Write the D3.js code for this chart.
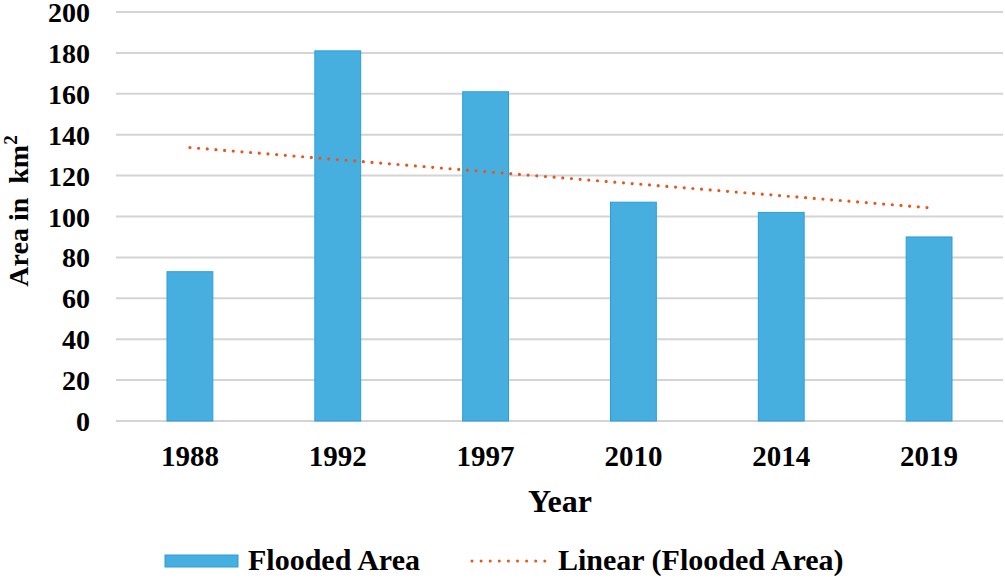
<!DOCTYPE html>
<html>
<head>
<meta charset="utf-8">
<script src="https://cdn.jsdelivr.net/npm/d3@7"></script>
<style>
  body { margin: 0; background: #fff; }
</style>
</head>
<body>
<svg width="1005" height="580"></svg>
<script>
const years = ["1988", "1992", "1997", "2010", "2014", "2019"];
const floodedArea = [73, 181, 161, 107, 102, 90];
const yTicks = [0, 20, 40, 60, 80, 100, 120, 140, 160, 180, 200];

const barColor = "#47afe0";
const barStroke = "#2a9ed8";
const trendColor = "#e8561a";
const gridColor = "#d4d4d4";
const serif = "Liberation Serif";

const svg = d3.select("svg");
const margin = { left: 116, right: 2, top: 12, bottom: 159 };
const width = 1005 - margin.left - margin.right;
const height = 580 - margin.top - margin.bottom;

const g = svg.append("g").attr("transform", `translate(${margin.left},${margin.top})`);

const x = d3.scaleBand().domain(years).range([0, width]).paddingInner(0.69).paddingOuter(0.345);
const y = d3.scaleLinear().domain([0, 200]).range([height, 0]);

// gridlines
g.append("g")
  .selectAll("line")
  .data(yTicks)
  .enter()
  .append("line")
  .attr("x1", 0)
  .attr("x2", width)
  .attr("y1", (d) => y(d))
  .attr("y2", (d) => y(d))
  .attr("stroke", gridColor)
  .attr("stroke-width", 2);

// y tick labels
const yAxis = g.append("g")
  .attr("transform", "translate(-26,0)")
  .call(d3.axisLeft(y).tickValues(yTicks).tickSize(0).tickPadding(0));
yAxis.select(".domain").remove();
yAxis.attr("font-family", serif).attr("font-size", 28).attr("font-weight", "bold");
yAxis.selectAll("text").attr("fill", "#000").attr("dy", "0.34em");

// bars
g.append("g")
  .selectAll("rect")
  .data(floodedArea)
  .enter()
  .append("rect")
  .attr("x", (d, i) => x(years[i]))
  .attr("y", (d) => y(d))
  .attr("width", x.bandwidth())
  .attr("height", (d) => height - y(d))
  .attr("fill", barColor)
  .attr("stroke", barStroke)
  .attr("stroke-width", 1);

// linear trend (least squares over category index)
const n = floodedArea.length;
const xs = d3.range(1, n + 1);
const mx = d3.mean(xs);
const my = d3.mean(floodedArea);
const slope = d3.sum(xs, (v, i) => (v - mx) * (floodedArea[i] - my)) / d3.sum(xs, (v) => (v - mx) ** 2);
const intercept = my - slope * mx;
const trend = years.map((yr, i) => ({ yr, v: intercept + slope * (i + 1) }));

g.append("path")
  .datum(trend)
  .attr("fill", "none")
  .attr("stroke", trendColor)
  .attr("stroke-width", 3.2)
  .attr("stroke-linecap", "round")
  .attr("stroke-dasharray", "0 8.7")
  .attr("d", d3.line().x((d) => x(d.yr) + x.bandwidth() / 2).y((d) => y(d.v)));

// x axis labels
const xAxis = g.append("g")
  .attr("transform", `translate(0,${height + 45})`)
  .call(d3.axisBottom(x).tickSize(0).tickPadding(0));
xAxis.select(".domain").remove();
xAxis.attr("font-family", serif).attr("font-size", 29).attr("font-weight", "bold");
xAxis.selectAll("text").attr("fill", "#000").attr("y", 0).attr("dy", 0);

// axis titles
svg.append("text")
  .attr("x", 560)
  .attr("y", 512)
  .attr("text-anchor", "middle")
  .attr("font-family", serif)
  .attr("font-weight", "bold")
  .attr("font-size", 32)
  .text("Year");

const yTitle = svg.append("text")
  .attr("transform", "translate(28,211) rotate(-90)")
  .attr("text-anchor", "middle")
  .attr("font-family", serif)
  .attr("font-weight", "bold")
  .attr("font-size", 28);
yTitle.append("tspan").text("Area in\u00a0\u00a0km");
yTitle.append("tspan").attr("font-size", 19).attr("dy", -11).text("2");

// legend
const legend = svg.append("g")
  .attr("transform", "translate(0,561)")
  .attr("font-family", serif)
  .attr("font-weight", "bold")
  .attr("font-size", 30);
legend.append("rect")
  .attr("x", 165)
  .attr("y", -6)
  .attr("width", 73)
  .attr("height", 12)
  .attr("fill", barColor)
  .attr("stroke", barStroke);
legend.append("text")
  .attr("x", 248)
  .attr("y", 9)
  .text("Flooded Area");
legend.append("line")
  .attr("x1", 472)
  .attr("x2", 545)
  .attr("y1", 0)
  .attr("y2", 0)
  .attr("stroke", trendColor)
  .attr("stroke-width", 3)
  .attr("stroke-linecap", "round")
  .attr("stroke-dasharray", "0 9.1");
legend.append("text")
  .attr("x", 558)
  .attr("y", 9)
  .text("Linear (Flooded Area)");
</script>
</body>
</html>
